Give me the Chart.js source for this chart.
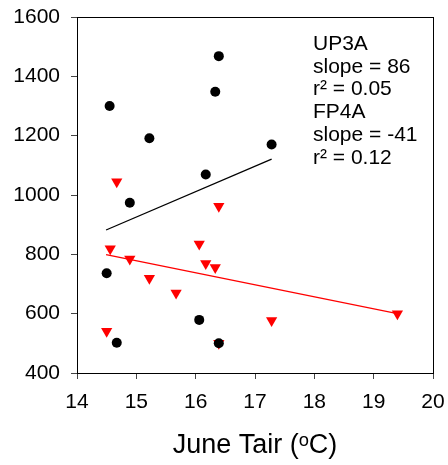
<!DOCTYPE html>
<html lang="en">
<head>
    <meta charset="UTF-8">
    <title>June Tair scatter</title>
    <script src="https://cdn.jsdelivr.net/npm/chart.js"></script>
    <style>
    html, body { margin: 0; padding: 0; background: #fff; }
    #wrap { width: 448px; height: 465px; }
    </style>
</head>
<body>
    <div id="wrap"><canvas id="tairChart"></canvas></div>

    <script>
    // UP3A (black circles)
    const upX = [16.39, 16.33, 14.55, 15.22, 17.28, 16.17, 14.89, 14.50, 16.06, 14.67, 16.39];
    const upY = [1468, 1348, 1300, 1191, 1170, 1069, 974, 736, 579, 502, 500];
    // FP4A (red triangles)
    const fpX = [14.67, 16.39, 16.06, 14.56, 14.89, 16.17, 16.33, 15.22, 15.67, 19.40, 17.28, 14.50, 16.39];
    const fpY = [1045, 962, 835, 819, 784, 769, 756, 719, 670, 600, 577, 541, 500];
    // fitted lines (end points)
    const upFitX = [14.49, 17.28];
    const upFitY = [882, 1121];
    const fpFitX = [14.49, 19.40];
    const fpFitY = [799, 600];

    const statLines = ["UP3A", "slope = 86", "r\u00B2 = 0.05", "FP4A", "slope = -41", "r\u00B2 = 0.12"];

    const xTicks = [14, 15, 16, 17, 18, 19, 20];
    const yTicks = [400, 600, 800, 1000, 1200, 1400, 1600];

    const toPts = (xs, ys) => xs.map((x, i) => ({ x: x, y: ys[i] }));

    const fontFam = "'Liberation Sans', Arial, sans-serif";

    const framePlugin = {
        id: 'frame',
        afterDraw(chart) {
        const { ctx, chartArea: a } = chart;
        ctx.save();
        ctx.strokeStyle = '#000';
        ctx.lineWidth = 1;
        ctx.strokeRect(a.left + 0.5, a.top + 0.5, a.right - a.left, a.bottom - a.top);
        // stats text
        ctx.fillStyle = '#000';
        ctx.font = '21px ' + fontFam;
        ctx.textAlign = 'left';
        ctx.textBaseline = 'alphabetic';
        statLines.forEach((t, i) => {
            ctx.fillText(t, a.left + 236, a.top + 33 + i * 22.7);
        });
        ctx.restore();
        }
    };

    new Chart(document.getElementById('tairChart'), {
        type: 'scatter',
        data: {
        datasets: [
            {
            label: 'UP3A fit',
            type: 'line',
            data: toPts(upFitX, upFitY),
            borderColor: '#000',
            borderWidth: 1.3,
            pointRadius: 0
            },
            {
            label: 'FP4A fit',
            type: 'line',
            data: toPts(fpFitX, fpFitY),
            borderColor: '#ff0000',
            borderWidth: 1.3,
            pointRadius: 0
            },
            {
            label: 'UP3A',
            data: toPts(upX, upY),
            pointStyle: 'circle',
            pointRadius: 5,
            backgroundColor: '#000',
            borderColor: '#000',
            borderWidth: 0
            },
            {
            label: 'FP4A',
            data: toPts(fpX, fpY),
            pointStyle: 'triangle',
            rotation: 180,
            pointRadius: 6.5,
            backgroundColor: '#ff0000',
            borderColor: '#ff0000',
            borderWidth: 0
            }
        ]
        },
        options: {
        responsive: true,
        maintainAspectRatio: false,
        animation: false,
        layout: { padding: { left: 0, top: 17, right: 15, bottom: 0 } },
        plugins: {
            legend: { display: false },
            tooltip: { enabled: false }
        },
        scales: {
            x: {
            type: 'linear',
            min: 14,
            max: 20,
            afterBuildTicks: s => { s.ticks = xTicks.map(v => ({ value: v })); },
            afterFit: s => { s.height = 92; s.paddingLeft = 0; s.paddingRight = 0; },
            border: { display: true, color: '#000', width: 1 },
            grid: { drawOnChartArea: false, drawTicks: true, tickLength: 6, color: '#444' },
            ticks: { color: '#000', padding: 11, maxRotation: 0, callback: v => String(v), font: { family: fontFam, size: 21 } },
            title: {
                display: true,
                text: 'June Tair (\u1D52C)',
                color: '#000',
                font: { family: fontFam, size: 27 },
                padding: { top: 0, bottom: 3 }
            }
            },
            y: {
            type: 'linear',
            min: 400,
            max: 1600,
            afterBuildTicks: s => { s.ticks = yTicks.map(v => ({ value: v })); },
            afterFit: s => { s.width = 77; s.paddingTop = 0; s.paddingBottom = 0; },
            border: { display: true, color: '#000', width: 1 },
            grid: { drawOnChartArea: false, drawTicks: true, tickLength: 6, color: '#444' },
            ticks: { color: '#000', padding: 11, callback: v => String(v), font: { family: fontFam, size: 21 } }
            }
        }
        },
        plugins: [framePlugin]
    });
    </script>
</body>
</html>
